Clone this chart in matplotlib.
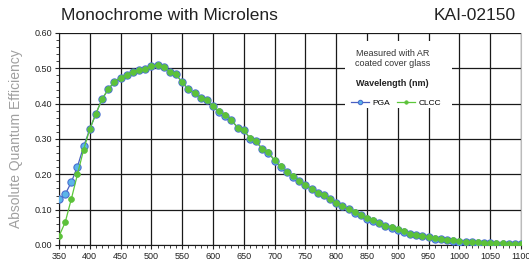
import matplotlib
matplotlib.use("Agg")
import matplotlib.pyplot as plt
from matplotlib.patches import Rectangle
from matplotlib.ticker import MultipleLocator

plt.rcParams["font.family"] = ["Liberation Sans", "DejaVu Sans"]

# Wavelength (nm), 10 nm steps
wavelength = list(range(350, 1101, 10))

pga = [
    0.129, 0.143, 0.178, 0.222, 0.279, 0.328, 0.372, 0.413, 0.441, 0.462,
    0.473, 0.482, 0.490, 0.494, 0.498, 0.506, 0.509, 0.504, 0.490, 0.483,
    0.460, 0.441, 0.430, 0.417, 0.409, 0.394, 0.377, 0.366, 0.353, 0.332,
    0.326, 0.301, 0.293, 0.271, 0.261, 0.239, 0.222, 0.207, 0.193, 0.181,
    0.170, 0.158, 0.147, 0.141, 0.129, 0.118, 0.110, 0.101, 0.091, 0.084,
    0.075, 0.069, 0.062, 0.054, 0.049, 0.043, 0.038, 0.031, 0.028, 0.025,
    0.022, 0.018, 0.016, 0.014, 0.012, 0.009, 0.008, 0.0075, 0.007, 0.006,
    0.005, 0.004, 0.004, 0.003, 0.003, 0.003,
]

clcc = [
    0.025, 0.064, 0.130, 0.200, 0.270, 0.328, 0.372, 0.413, 0.441, 0.462,
    0.474, 0.482, 0.491, 0.495, 0.498, 0.506, 0.509, 0.504, 0.490, 0.483,
    0.460, 0.441, 0.430, 0.417, 0.409, 0.394, 0.378, 0.367, 0.354, 0.332,
    0.326, 0.302, 0.294, 0.272, 0.262, 0.240, 0.223, 0.208, 0.194, 0.182,
    0.171, 0.159, 0.148, 0.142, 0.130, 0.119, 0.111, 0.102, 0.092, 0.085,
    0.076, 0.070, 0.063, 0.055, 0.050, 0.044, 0.039, 0.032, 0.029, 0.026,
    0.023, 0.019, 0.017, 0.015, 0.013, 0.010, 0.009, 0.008, 0.0075, 0.0065,
    0.0055, 0.0045, 0.0045, 0.0035, 0.0035, 0.0035,
]

W, H = 529, 263
fig = plt.figure(figsize=(W / 100, H / 100), dpi=100)
ax = fig.add_axes([59 / W, 1 - 245 / H, 462 / W, 212 / H])

ax.plot(wavelength, pga, "-o", color="#4a5fc1", lw=0.9, ms=5.2,
        mfc="#5bb5e8", mec="#4a6fd0", mew=0.8, label="PGA", zorder=3)
ax.plot(wavelength, clcc, "-o", color="#5cc83a", lw=0.9, ms=4.2,
        mfc="#5cc13a", mec="#5cc13a", mew=0.5, label="CLCC", zorder=4)

ax.set_xlim(350, 1100)
ax.set_ylim(0, 0.6)
ax.xaxis.set_major_locator(MultipleLocator(50))
ax.xaxis.set_minor_locator(MultipleLocator(10))
ax.yaxis.set_major_locator(MultipleLocator(0.1))
ax.yaxis.set_minor_locator(MultipleLocator(0.02))
ax.yaxis.set_major_formatter(plt.FormatStrFormatter("%.2f"))
ax.tick_params(which="both", labelsize=6.5, labelcolor="#222222",
               color="#222222", direction="out", pad=2)
ax.tick_params(which="major", length=3, width=0.8)
ax.tick_params(which="minor", length=2, width=0.6)
ax.grid(which="major", color="#1a1a1a", lw=0.9)
ax.set_axisbelow(True)
for side in ["left", "bottom"]:
    ax.spines[side].set_color("#1a1a1a")
ax.spines["top"].set_visible(False)
ax.spines["right"].set_color("#bbbbbb")

ax.set_ylabel("Absolute Quantum Efficiency", fontsize=10, color="#a0a0a0",
              labelpad=8)

fig.text(61 / W, 1 - 16 / H, "Monochrome with Microlens", fontsize=12.5,
         color="#222222", va="center", ha="left")
fig.text(516 / W, 1 - 16 / H, "KAI-02150", fontsize=12.5,
         color="#222222", va="center", ha="right")

# white note box over the grid
ax.add_patch(Rectangle((0.619, 0.645), 0.232, 0.315, transform=ax.transAxes,
                       facecolor="white", edgecolor="none", zorder=2.5))
ax.text(0.722, 0.88, "Measured with AR\ncoated cover glass",
        transform=ax.transAxes, ha="center", va="center", fontsize=6.5,
        color="#333333", linespacing=1.1, zorder=5)
ax.text(0.722, 0.763, "Wavelength (nm)", transform=ax.transAxes,
        ha="center", va="center", fontsize=6.5, fontweight="bold",
        color="#222222", zorder=5)
leg = ax.legend(loc="center", bbox_to_anchor=(0.73, 0.67), ncol=2,
                frameon=False, fontsize=6, handlelength=2.2,
                handletextpad=0.4, columnspacing=0.8, markerscale=0.6,
                borderpad=0.1)
leg.set_zorder(5)

fig.savefig("out.png", dpi=100)
